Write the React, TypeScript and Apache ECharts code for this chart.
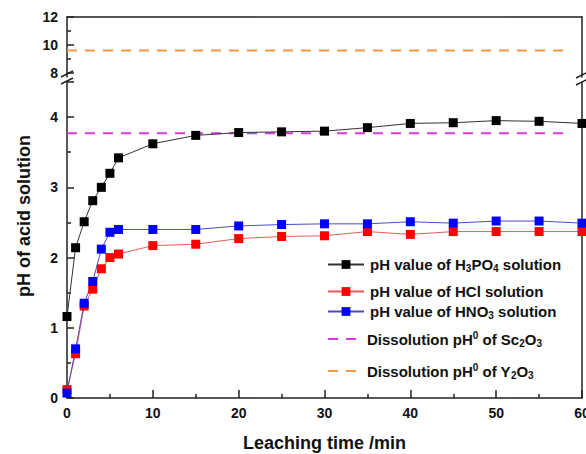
import React, { useEffect, useRef } from "react";
import * as echarts from "echarts";

const times = [0, 1, 2, 3, 4, 5, 6, 10, 15, 20, 25, 30, 35, 40, 45, 50, 55, 60];
const h3po4 = [1.16, 2.14, 2.51, 2.81, 3.0, 3.2, 3.42, 3.62, 3.74, 3.78, 3.79, 3.8, 3.85, 3.91, 3.92, 3.95, 3.94, 3.91];
const hcl = [0.12, 0.63, 1.31, 1.55, 1.84, 2.0, 2.05, 2.17, 2.19, 2.27, 2.3, 2.31, 2.37, 2.33, 2.37, 2.37, 2.37, 2.37];
const hno3 = [0.07, 0.7, 1.35, 1.66, 2.12, 2.36, 2.4, 2.4, 2.4, 2.45, 2.47, 2.48, 2.48, 2.51, 2.49, 2.52, 2.52, 2.49];
const refSpan = [0, 58];
const sc2o3pH = 3.77;
const y2o3pH = 9.6;
const xTicks = [0, 10, 20, 30, 40, 50, 60];
const lowerLabels = [0, 1, 2, 3, 4];
const upperLabels = [8, 10, 12];
const upperMinor = [9, 11];

const names = [
  "pH value of H3PO4 solution",
  "pH value of HCl solution",
  "pH value of HNO3 solution",
  "Dissolution pH0 of Sc2O3",
  "Dissolution pH0 of Y2O3",
];
const richNames: Record<string, string> = {
  [names[0]]: "{a|pH value of H}{b|3}{a|PO}{b|4}{a| solution}",
  [names[1]]: "{a|pH value of HCl solution}",
  [names[2]]: "{a|pH value of HNO}{b|3}{a| solution}",
  [names[3]]: "{a|Dissolution pH}{c|0}{a| of Sc}{b|2}{a|O}{b|3}",
  [names[4]]: "{a|Dissolution pH}{c|0}{a| of Y}{b|2}{a|O}{b|3}",
};

const FONT = "Liberation Sans, Arial, sans-serif";

export default function App() {
  const ref = useRef<HTMLDivElement>(null);
  useEffect(() => {
    if (!ref.current) return;
    const chart = echarts.init(ref.current, null, { renderer: "svg" });
    const axisLine = { show: true, lineStyle: { color: "#222", width: 1.5 } };
    const labelStyle = { fontFamily: FONT, fontWeight: "bold" as const, fontSize: 14, color: "#111" };
    const rich = {
      a: { fontFamily: FONT, fontWeight: "bold", fontSize: 15, color: "#111", lineHeight: 18 },
      b: { fontFamily: FONT, fontWeight: "bold", fontSize: 10, color: "#111", lineHeight: 8, verticalAlign: "bottom" },
      c: { fontFamily: FONT, fontWeight: "bold", fontSize: 10, color: "#111", lineHeight: 9, verticalAlign: "top" },
    };
    const legendTops = [252, 279, 299, 325, 357];
    const legends = names.map((n, i) => ({
      data: [n],
      left: 322,
      top: legendTops[i],
      orient: "vertical",
      itemWidth: i < 3 ? 36 : 30,
      itemHeight: 11,
      itemGap: 0,
      formatter: (nm: string) => richNames[nm],
      textStyle: { rich, padding: i < 3 ? [0, 0, 0, 1] : [0, 0, 0, 4] },
      ...(i >= 3 ? { itemStyle: { opacity: 0 } } : {}),
    }));

    const mk = (arr: number[]) => times.map((t, i) => [t, arr[i]]);

    chart.setOption({
      animation: false,
      backgroundColor: "#fff",
      grid: [
        { left: 67, right: 4, top: 82, height: 316, outerBoundsMode: "none" },
        { left: 67, right: 4, top: 17, height: 60, outerBoundsMode: "none" },
      ],
      xAxis: [
        {
          gridIndex: 0,
          type: "value",
          min: 0,
          max: 60,
          interval: 10,
          axisLine,
          axisTick: { inside: true, length: 8, lineStyle: { color: "#222", width: 1.5 } },
          minorTick: { show: true, splitNumber: 2, length: 4, lineStyle: { color: "#222", width: 1.5 } },
          splitLine: { show: false },
          axisLabel: { ...labelStyle, margin: 8, customValues: xTicks },
          name: "Leaching time /min",
          nameLocation: "middle",
          nameGap: 36,
          nameTextStyle: { fontFamily: FONT, fontWeight: "bold", fontSize: 18, color: "#111" },
        },
        {
          gridIndex: 1,
          type: "value",
          min: 0,
          max: 60,
          position: "top",
          axisLine,
          axisTick: { show: false },
          axisLabel: { show: false },
          splitLine: { show: false },
        },
      ],
      yAxis: [
        {
          gridIndex: 0,
          type: "value",
          min: 0,
          max: 4.5,
          interval: 1,
          position: "left",
          axisLine,
          axisTick: { inside: true, length: 7, lineStyle: { color: "#222", width: 1.5 } },
          minorTick: { show: true, splitNumber: 2, length: 4, lineStyle: { color: "#222", width: 1.5 } },
          splitLine: { show: false },
          axisLabel: { ...labelStyle, margin: 9, customValues: lowerLabels },
        },
        {
          gridIndex: 0,
          type: "value",
          min: 0,
          max: 4.5,
          position: "right",
          axisLine,
          axisTick: { show: false },
          axisLabel: { show: false },
          splitLine: { show: false },
        },
        {
          gridIndex: 1,
          type: "value",
          min: 7.7,
          max: 12,
          position: "left",
          axisLine,
          axisTick: { inside: true, length: 7, customValues: upperLabels, lineStyle: { color: "#222", width: 1.5 } },
          splitLine: { show: false },
          axisLabel: { ...labelStyle, margin: 9, customValues: upperLabels },
        },
        {
          gridIndex: 1,
          type: "value",
          min: 7.7,
          max: 12,
          position: "left",
          axisLine: { show: false },
          axisTick: { show: true, inside: true, length: 4, customValues: upperMinor, lineStyle: { color: "#222", width: 1.5 } },
          splitLine: { show: false },
          axisLabel: { show: false },
        },
        {
          gridIndex: 1,
          type: "value",
          min: 7.7,
          max: 12,
          position: "right",
          axisLine,
          axisTick: { show: false },
          axisLabel: { show: false },
          splitLine: { show: false },
        },
      ],
      legend: legends,
      series: [
        {
          name: names[3],
          type: "line",
          xAxisIndex: 0,
          yAxisIndex: 0,
          data: refSpan.map((t) => [t, sc2o3pH]),
          symbol: "none",
          lineStyle: { color: "#D83AD8", width: 2, type: [10, 8] },
          itemStyle: { color: "#D83AD8" },
        },
        {
          name: names[4],
          type: "line",
          xAxisIndex: 1,
          yAxisIndex: 2,
          data: refSpan.map((t) => [t, y2o3pH]),
          symbol: "none",
          lineStyle: { color: "#EE9A44", width: 2, type: [10, 8] },
          itemStyle: { color: "#EE9A44" },
        },
        {
          name: names[1],
          type: "line",
          xAxisIndex: 0,
          yAxisIndex: 0,
          data: mk(hcl),
          symbol: "rect",
          symbolSize: 9,
          lineStyle: { color: "#E85A5A", width: 1 },
          itemStyle: { color: "#FF0000" },
          clip: false,
        },
        {
          name: names[2],
          type: "line",
          xAxisIndex: 0,
          yAxisIndex: 0,
          data: mk(hno3),
          symbol: "rect",
          symbolSize: 9,
          lineStyle: { color: "#4A4AC8", width: 1 },
          itemStyle: { color: "#0000FF" },
          clip: false,
        },
        {
          name: names[0],
          type: "line",
          xAxisIndex: 0,
          yAxisIndex: 0,
          data: mk(h3po4),
          symbol: "rect",
          symbolSize: 9,
          lineStyle: { color: "#333", width: 1 },
          itemStyle: { color: "#000" },
          clip: false,
        },
      ],
      graphic: [
        {
          type: "text",
          x: 24,
          y: 216,
          rotation: Math.PI / 2,
          style: {
            text: "pH of acid solution",
            fontFamily: FONT,
            fontWeight: "bold",
            fontSize: 18,
            fill: "#111",
            textAlign: "center",
            textVerticalAlign: "middle",
          },
        },
        { type: "line", shape: { x1: 61, y1: 77, x2: 73, y2: 71 }, style: { stroke: "#222", lineWidth: 1.5 } },
        { type: "line", shape: { x1: 61, y1: 84, x2: 73, y2: 78 }, style: { stroke: "#222", lineWidth: 1.5 } },
        { type: "line", shape: { x1: 576, y1: 78, x2: 588, y2: 72 }, style: { stroke: "#222", lineWidth: 1.5 } },
        { type: "line", shape: { x1: 576, y1: 85, x2: 588, y2: 79 }, style: { stroke: "#222", lineWidth: 1.5 } },
      ],
    });
    return () => chart.dispose();
  }, []);
  return (
    <div
      ref={ref}
      style={{ position: "absolute", left: 0, top: 0, width: 586, height: 454 }}
    />
  );
}
